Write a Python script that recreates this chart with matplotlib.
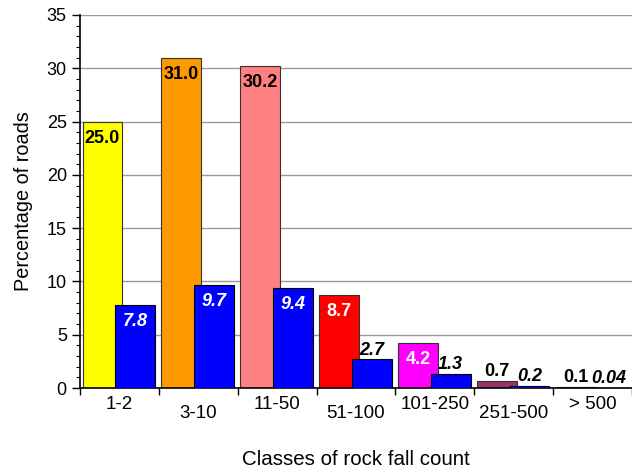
import numpy as np
import matplotlib.pyplot as plt
from matplotlib.ticker import MultipleLocator

plt.rcParams['font.family'] = ['Liberation Sans', 'DejaVu Sans']

classes = ['1-2', '3-10', '11-50', '51-100', '101-250', '251-500', '> 500']
roads = [25.0, 31.0, 30.2, 8.7, 4.2, 0.7, 0.1]
rockfalls = [7.8, 9.7, 9.4, 2.7, 1.3, 0.2, 0.04]
road_labels = ['25.0', '31.0', '30.2', '8.7', '4.2', '0.7', '0.1']
rock_labels = ['7.8', '9.7', '9.4', '2.7', '1.3', '0.2', '0.04']

road_colors = ['#FFFF00', '#FF9900', '#FF8080', '#FF0000', '#FF00FF', '#993366', '#333399']
road_text = ['black', 'black', 'black', 'white', 'white', 'black', 'black']
rock_text = ['white', 'white', 'white', 'black', 'black', 'black', 'black']

fig = plt.figure(figsize=(6.32, 4.71), dpi=100)
ax = fig.add_axes([0.1266, 0.1762, 0.8734, 0.7920])

x = np.arange(len(classes))
w = 0.506
b1 = ax.bar(x - 0.215, roads, w, color=road_colors, edgecolor='#333333', linewidth=0.8, zorder=2)
b2 = ax.bar(x + 0.2, rockfalls, w, color='#0000FF', edgecolor='black', linewidth=0.8, zorder=3)


def put_label(r, txt, col, italic):
    h = r.get_height()
    cx = r.get_x() + r.get_width() / 2
    st = 'italic' if italic else 'normal'
    if col == 'white' or h > 20:
        # dentro la barra, sotto il bordo superiore
        ax.annotate(txt, xy=(cx, h), xytext=(0, -12), textcoords='offset points',
                    ha='center', va='center', fontsize=13, fontweight='bold',
                    style=st, color=col, zorder=4)
    else:
        ax.annotate(txt, xy=(cx, h), xytext=(0, 0.5), textcoords='offset points',
                    ha='center', va='bottom', fontsize=13, fontweight='bold',
                    style=st, color=col, zorder=4)


for i, r in enumerate(b1):
    put_label(r, road_labels[i], road_text[i], False)
for i, r in enumerate(b2):
    put_label(r, rock_labels[i], rock_text[i], True)

ax.set_xlim(-0.5, len(classes) - 0.5)
ax.set_ylim(0, 35)
ax.yaxis.set_major_locator(MultipleLocator(5))
ax.yaxis.set_minor_locator(MultipleLocator(1))
ax.grid(axis='y', color='#999999', linewidth=1.0, zorder=0)
ax.set_axisbelow(True)

# tick tra le categorie, etichette sfalsate
ax.set_xticks(np.arange(-0.5, len(classes) - 0.5 + 0.01, 1.0))
ax.set_xticklabels([])
ax.tick_params(axis='x', length=5, width=1, direction='out')
for i, c in enumerate(classes):
    off = -12 if i % 2 == 0 else -18.5
    ax.annotate(c, xy=(i, 0), xycoords='data', xytext=(0, off), textcoords='offset points',
                ha='center', va='center', fontsize=13.5, annotation_clip=False)

ax.tick_params(axis='y', which='major', length=6, width=1, direction='out', labelsize=13)
ax.tick_params(axis='y', which='minor', length=3, width=0.8, direction='out')

for s in ['top', 'right']:
    ax.spines[s].set_visible(False)
ax.spines['left'].set_linewidth(1.2)
ax.spines['bottom'].set_linewidth(1.2)

ax.set_ylabel('Percentage of roads', fontsize=14.3, labelpad=10)
ax.set_xlabel('Classes of rock fall count', fontsize=14.8, labelpad=36)

fig.savefig('out.png', dpi=100)
